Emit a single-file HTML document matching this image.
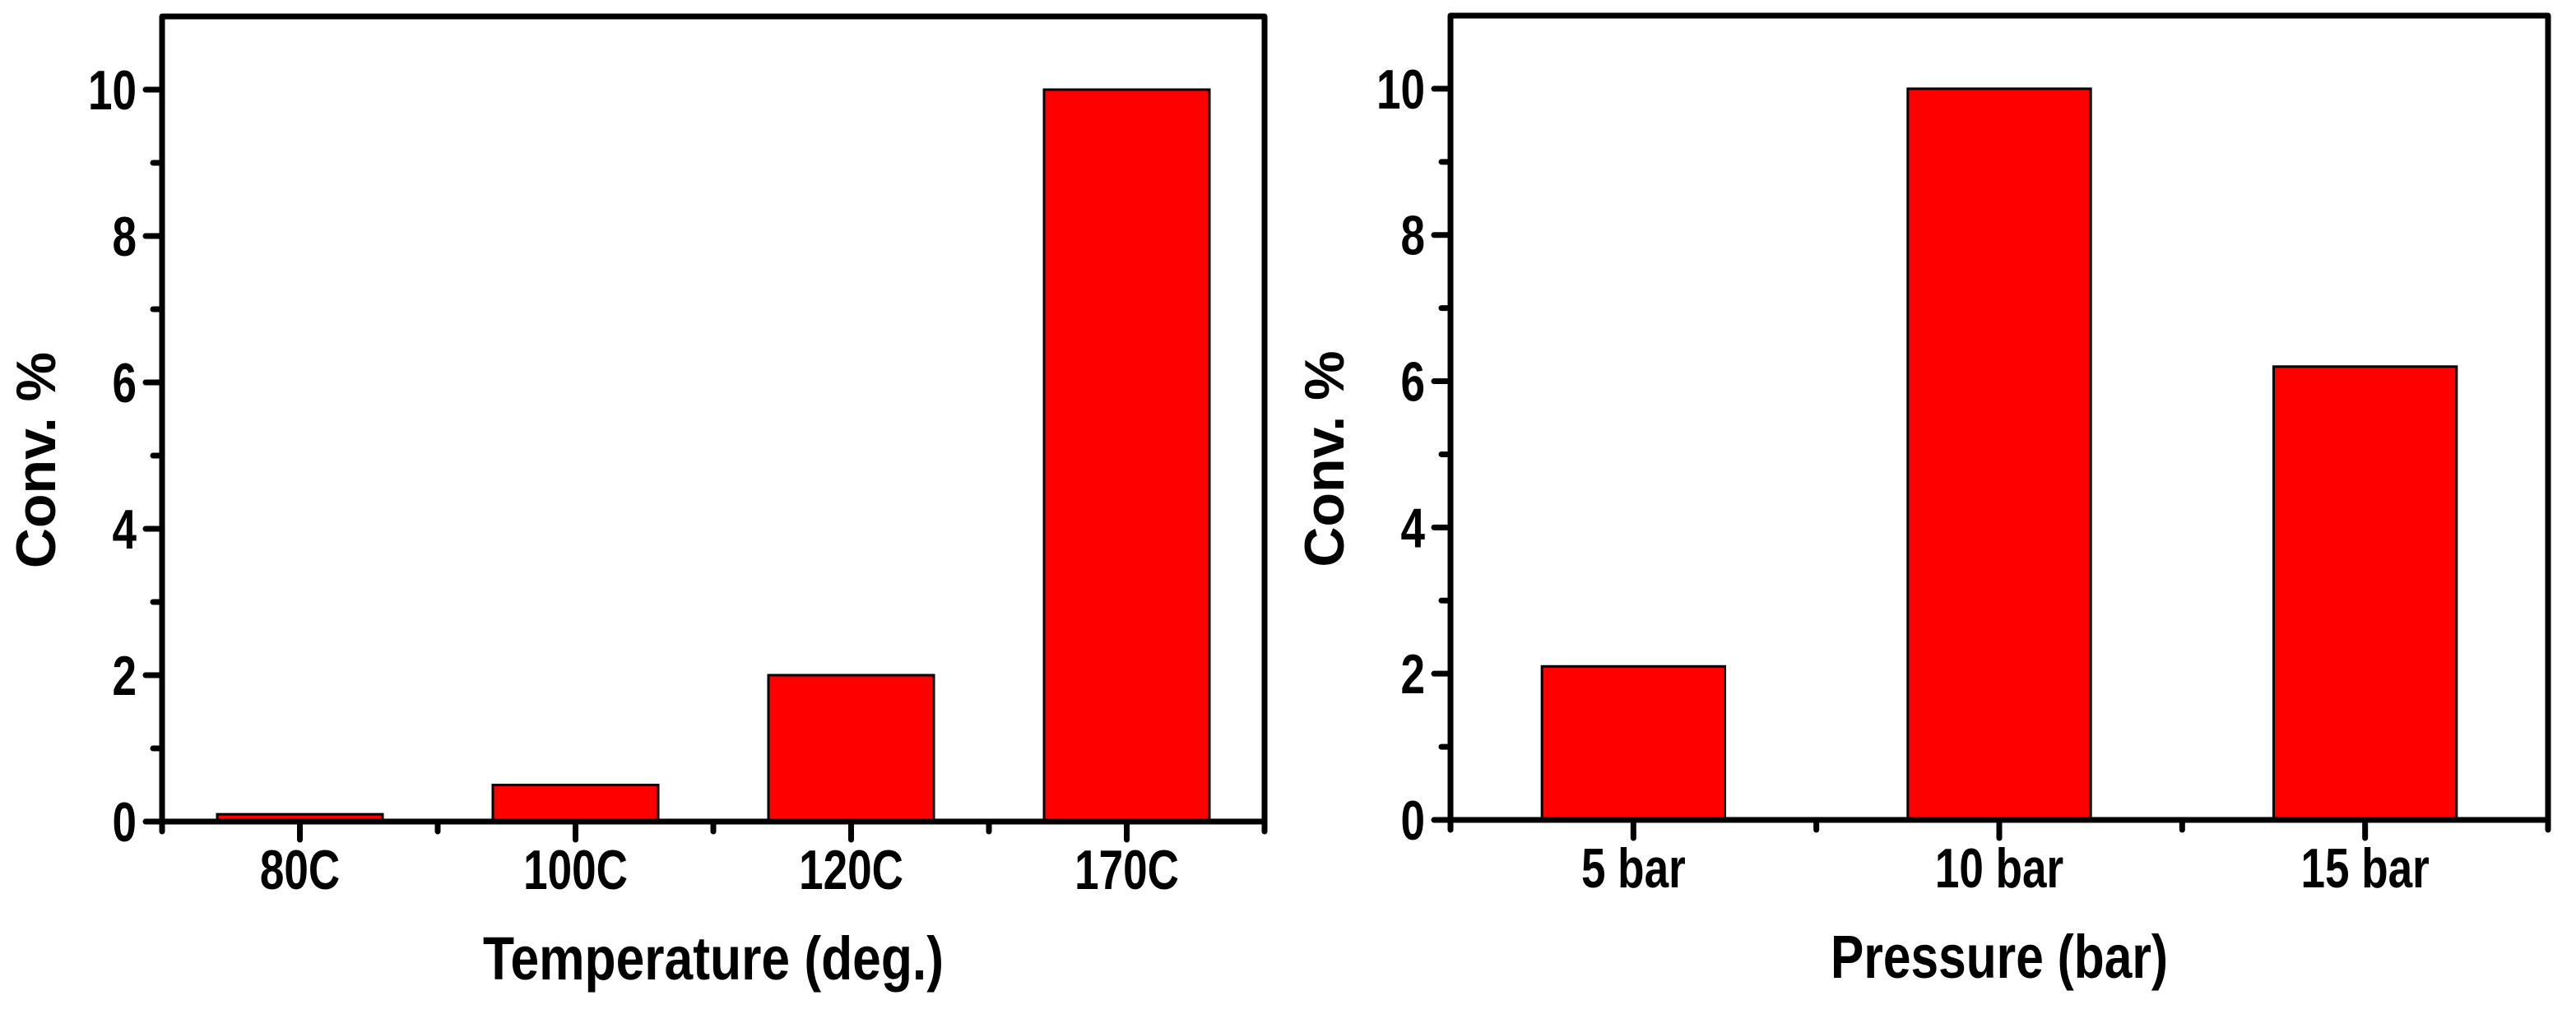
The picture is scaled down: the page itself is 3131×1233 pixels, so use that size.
<!DOCTYPE html>
<html><head><meta charset="utf-8"><style>
html,body{margin:0;padding:0;background:#fff;}
svg{display:block;}
.tk{font-family:"Liberation Sans Narrow","Liberation Sans",sans-serif;font-weight:bold;font-size:68px;}
.tt{font-family:"Liberation Sans Narrow","Liberation Sans",sans-serif;font-weight:bold;font-size:74px;}
.yt{font-family:"Liberation Sans",sans-serif;font-weight:bold;font-size:68px;}
</style></head><body>
<svg id="fig" width="3131" height="1233" viewBox="0 0 3131 1233" xmlns="http://www.w3.org/2000/svg"></svg>
<script>
const tempCategories = ["80C","100C","120C","170C"];
const tempValues = [0.1, 0.5, 2.0, 10.0];
const pressCategories = ["5 bar","10 bar","15 bar"];
const pressValues = [2.1, 10.0, 6.2];
const yTickLabels = [0, 2, 4, 6, 8, 10];
const yMinorTicks = [1, 3, 5, 7, 9];
const yMax = 11;

const NS = "http://www.w3.org/2000/svg";
const svg = document.getElementById('fig');
function mk(tag, attrs, parent){
  const e = document.createElementNS(NS, tag);
  for (const k in attrs) e.setAttribute(k, attrs[k]);
  (parent||svg).appendChild(e);
  return e;
}
function drawPanel(prefix, cfg, cats, vals, barW, xTitle, titleW){
  const g = mk('g', {});
  
  
  const n = cats.length;
  const xs = v => cfg.x0 + (v - 0.5) / n * (cfg.x1 - cfg.x0);
  const ys = v => cfg.y0 - v / yMax * (cfg.y0 - cfg.yTop);
  for (let i = 0; i < n; i++) {
    const cx = xs(i + 1), w = barW * (cfg.x1 - cfg.x0) / n;
    const r = mk('rect', {x: cx - w/2, y: ys(vals[i]), width: w, height: cfg.y0 - ys(vals[i]), fill: '#ff0000', stroke: '#000', 'stroke-width': 3}, g);
    
    
  }
  const f = mk('rect', {x: cfg.x0, y: cfg.yTop, width: cfg.x1 - cfg.x0, height: cfg.y0 - cfg.yTop, fill: 'none', stroke: '#000', 'stroke-width': 7, 'stroke-linejoin':'round'}, g);
  
  
  yTickLabels.forEach(v => {
    mk('line', {x1: cfg.x0 - 20, x2: cfg.x0, y1: ys(v), y2: ys(v), stroke: '#000', 'stroke-width': 7, 'stroke-linecap':'round'}, g);
    const t = mk('text', {x: 0, y: 0, 'text-anchor': 'end', class: 'tk', transform: 'translate(' + (cfg.x0 - 31) + ',' + (ys(v) + 24) + ') scale(0.78,1)'}, g);
    t.textContent = v;
    
    
  });
  yMinorTicks.forEach(v => {
    mk('line', {x1: cfg.x0 - 11, x2: cfg.x0, y1: ys(v), y2: ys(v), stroke: '#000', 'stroke-width': 7, 'stroke-linecap':'round'}, g);
  });
  for (let i = 0; i < n; i++) {
    const cx = xs(i + 1);
    mk('line', {x1: cx, x2: cx, y1: cfg.y0, y2: cfg.y0 + 22, stroke: '#000', 'stroke-width': 7, 'stroke-linecap':'round'}, g);
    const t = mk('text', {x: 0, y: 0, 'text-anchor': 'middle', class: 'tk', transform: 'translate(' + cx + ',' + (cfg.y0 + 82) + ') scale(0.78,1)'}, g);
    t.textContent = cats[i];
    
    
  }
  for (let i = 0; i <= n; i++) {
    const mx = xs(i + 0.5);
    mk('line', {x1: mx, x2: mx, y1: cfg.y0, y2: cfg.y0 + 12, stroke: '#000', 'stroke-width': 7, 'stroke-linecap':'round'}, g);
  }
  const xt = mk('text', {x: (cfg.x0 + cfg.x1)/2 - titleW/2, y: cfg.y0 + 192, class: 'tt', textLength: titleW, lengthAdjust: 'spacingAndGlyphs'}, g);
  xt.textContent = xTitle;
  
  
  const yt = mk('text', {x: 0, y: 0, 'text-anchor': 'middle', class: 'yt', transform: 'translate(' + (cfg.x0 - 130) + ',' + ((cfg.y0 + cfg.yTop)/2 + 50) + ') rotate(-90)'}, g);
  yt.textContent = 'Conv.  %';
  
  
}
drawPanel('temperature', {x0: 197, x1: 1537, y0: 999, yTop: 20}, tempCategories, tempValues, 0.6, 'Temperature (deg.)', 560);
drawPanel('pressure', {x0: 1763, x1: 3097, y0: 997, yTop: 19}, pressCategories, pressValues, 0.5, 'Pressure (bar)', 410);
</script>
</body></html>
